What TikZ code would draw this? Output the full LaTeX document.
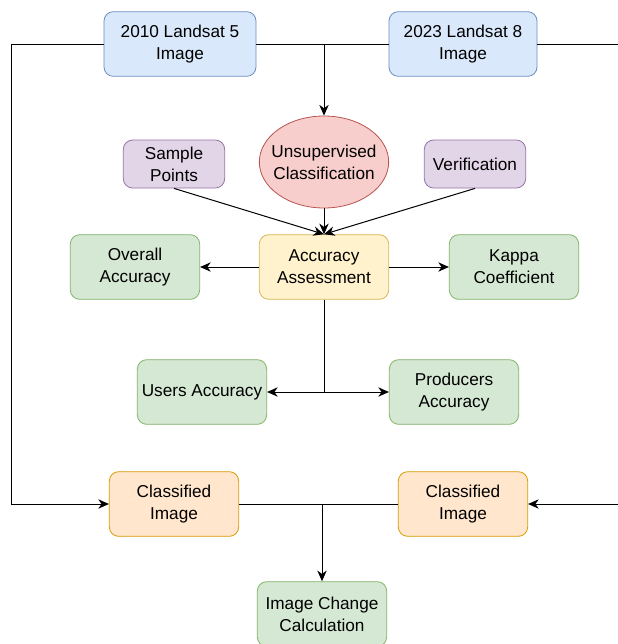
\documentclass[tikz,border=0pt]{standalone}
\usepackage{fontspec}
\setmainfont{Liberation Sans}
\usepackage{tikz}
\usetikzlibrary{arrows.meta,shapes.geometric}

\definecolor{bluefill}{HTML}{DAE8FC}
\definecolor{bluedraw}{HTML}{6C8EBF}
\definecolor{redfill}{HTML}{F8CECC}
\definecolor{reddraw}{HTML}{B85450}
\definecolor{purplefill}{HTML}{E1D5E7}
\definecolor{purpledraw}{HTML}{9673A6}
\definecolor{yellowfill}{HTML}{FFF2CC}
\definecolor{yellowdraw}{HTML}{D6B656}
\definecolor{greenfill}{HTML}{D5E8D4}
\definecolor{greendraw}{HTML}{82B366}
\definecolor{orangefill}{HTML}{FFE6CC}
\definecolor{orangedraw}{HTML}{D79B00}

\begin{document}
\begin{tikzpicture}[->,>={Stealth[length=8pt,width=7pt,inset=2.5pt]},line width=0.75pt,
                    x=0.75pt,y=-0.75pt,font=\fontsize{12.9}{16.4}\selectfont]
  \tikzstyle{every box}=[draw,rounded corners=7pt,align=center,text=black,
                         minimum width=97pt,minimum height=48.5pt,line width=0.6pt]
  \tikzstyle{landsat}=[every box,fill=bluefill,draw=bluedraw,minimum width=114pt]
  \tikzstyle{method}=[ellipse,draw=reddraw,fill=redfill,align=center,text=black,
                      minimum width=97pt,minimum height=69pt,inner xsep=-5.5pt,
                      inner ysep=0pt,line width=0.6pt]
  \tikzstyle{input}=[every box,fill=purplefill,draw=purpledraw,
                     minimum width=76pt,minimum height=36pt]
  \tikzstyle{assess}=[every box,fill=yellowfill,draw=yellowdraw]
  \tikzstyle{result}=[every box,fill=greenfill,draw=greendraw]
  \tikzstyle{classified}=[every box,fill=orangefill,draw=orangedraw]

  \useasboundingbox (0,0) rectangle (618,644);

  \node[landsat]    (L5)  at (180,44)  {2010 Landsat 5\\Image};
  \node[landsat,minimum width=111pt] (L8) at (463,44) {2023 Landsat 8\\Image};
  \node[method]     (UC)  at (324,162) {Unsupervised\\Classification};
  \node[input]      (SP)  at (174,164) {Sample\\Points};
  \node[input]      (VER) at (475,164) {Verification};
  \node[assess]     (AA)  at (324,267) {Accuracy\\Assessment};
  \node[result]     (OA)  at (135,267) {Overall\\Accuracy};
  \node[result]     (KC)  at (514,267) {Kappa\\Coefficient};
  \node[result]     (UA)  at (202,392) {Users Accuracy};
  \node[result]     (PA)  at (454,392) {Producers\\Accuracy};
  \node[classified] (CI1) at (174,504) {Classified\\Image};
  \node[classified] (CI2) at (463,504) {Classified\\Image};
  \node[result]     (ICC) at (322,614) {Image Change\\Calculation};

  \coordinate (LT) at (11,44);
  \coordinate (RT) at (620,44);
  \coordinate (RB) at (620,504);

  % top row
  \draw[-] (L5.east) -- (L8.west);
  \draw[-] (L8.east) -- (RT);
  \draw (UC.north |- L5) -- (UC.north);
  \draw (L5.west) -- (LT) |- (CI1.west);
  \draw (RB) -- (CI2.east);

  % accuracy
  \draw (SP.south) -- (AA.north);
  \draw (VER.south) -- (AA.north);
  \draw (UC.south) -- (AA.north);
  \draw (AA.west) -- (OA.east);
  \draw (AA.east) -- (KC.west);
  \draw (AA.south) |- (UA.east);
  \draw (AA.south) |- (PA.west);

  % change
  \draw[-] (CI1.east) -- (CI2.west);
  \draw (ICC.north |- CI1) -- (ICC.north);
\end{tikzpicture}
\end{document}
